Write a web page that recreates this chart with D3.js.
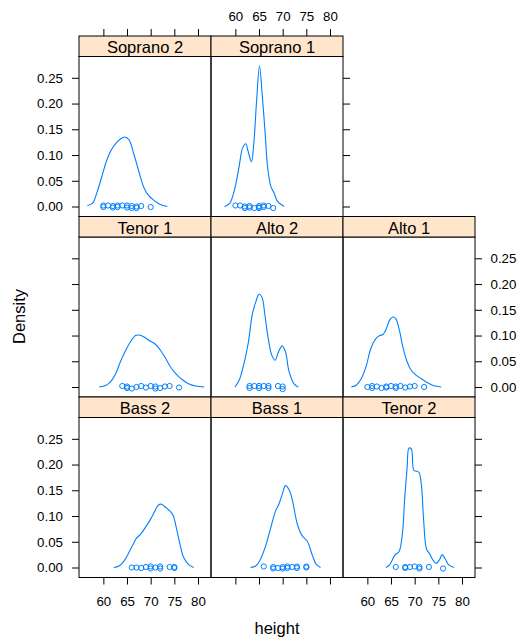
<!DOCTYPE html>
<html>
<head>
<meta charset="utf-8">
<script src="https://cdn.jsdelivr.net/npm/d3@7"></script>
<style>
  body { margin: 0; background: #fff; }
  text { font-family: "Liberation Sans", Arial, sans-serif; }
</style>
</head>
<body>
<div id="chart"></div>
<script>
// tick values
const heightTicks = [60, 65, 70, 75, 80];
const densityTicks = [0, 0.05, 0.10, 0.15, 0.20, 0.25];

// density curves: [height, density]
const soprano2Curve = [[56.6,0.002],[57.7,0.006],[58.7,0.029],[59.8,0.062],[60.5,0.084],[61.5,0.107],[62.6,0.122],[63.6,0.131],[64.5,0.135],[65.4,0.130],[66.5,0.100],[67.5,0.068],[68.6,0.036],[69.6,0.021],[70.7,0.012],[71.8,0.005],[73.5,0.000]];
const soprano1Curve = [[57.7,0.000],[58.8,0.006],[59.8,0.032],[60.8,0.078],[61.5,0.113],[62.2,0.122],[62.7,0.107],[63.4,0.087],[63.9,0.123],[64.5,0.207],[65.1,0.273],[65.7,0.214],[66.3,0.142],[66.8,0.078],[67.5,0.039],[68.2,0.026],[68.9,0.010],[70.3,0.000]];
const tenor1Curve = [[59.1,0.000],[60.5,0.003],[61.5,0.010],[62.6,0.026],[63.6,0.049],[64.7,0.071],[65.8,0.089],[66.8,0.100],[67.5,0.101],[68.6,0.097],[69.6,0.091],[71.0,0.083],[72.1,0.071],[73.2,0.055],[74.2,0.039],[75.3,0.026],[76.7,0.014],[78.1,0.006],[79.5,0.002],[81.3,0.000]];
const alto2Curve = [[59.9,0.000],[60.8,0.013],[61.8,0.045],[62.7,0.084],[63.6,0.142],[64.3,0.165],[65.0,0.180],[65.6,0.175],[66.3,0.136],[67.0,0.091],[67.7,0.062],[68.4,0.052],[69.1,0.068],[69.9,0.080],[70.6,0.068],[71.3,0.032],[72.4,0.006],[73.3,0.000]];
const alto1Curve = [[56.6,0.000],[57.7,0.004],[58.7,0.016],[59.8,0.042],[60.5,0.068],[61.2,0.085],[61.9,0.095],[62.6,0.100],[63.3,0.102],[64.0,0.113],[64.7,0.130],[65.4,0.136],[66.0,0.133],[66.7,0.113],[67.5,0.078],[68.4,0.049],[69.3,0.032],[70.3,0.023],[71.4,0.016],[72.4,0.010],[73.9,0.003],[75.6,0.000]];
const bass2Curve = [[62.2,0.000],[63.3,0.003],[64.4,0.013],[65.4,0.029],[66.3,0.045],[67.0,0.057],[67.9,0.065],[68.9,0.078],[70.0,0.094],[70.9,0.110],[71.7,0.122],[72.3,0.123],[73.0,0.118],[73.9,0.111],[74.7,0.102],[75.4,0.078],[76.2,0.045],[77.0,0.019],[78.1,0.005],[79.1,0.000]];
const bass1Curve = [[63.2,0.000],[64.3,0.003],[65.3,0.016],[66.4,0.042],[67.5,0.078],[68.5,0.110],[69.2,0.123],[69.9,0.142],[70.6,0.159],[71.3,0.152],[72.0,0.133],[73.1,0.084],[74.1,0.062],[75.2,0.051],[76.3,0.023],[77.1,0.006],[78.0,0.000]];
const tenor2Curve = [[63.9,0.000],[64.7,0.005],[65.8,0.024],[66.7,0.031],[67.4,0.065],[67.9,0.136],[68.4,0.194],[68.8,0.232],[69.3,0.230],[69.8,0.189],[70.4,0.187],[70.9,0.185],[71.4,0.162],[71.9,0.091],[72.5,0.036],[73.2,0.026],[73.9,0.014],[74.6,0.008],[75.3,0.016],[75.8,0.025],[76.5,0.016],[77.2,0.005],[78.3,0.000]];

// observed heights with the small vertical jitter seen in the picture
const soprano2Heights = [60, 60, 61, 62, 62, 63, 63, 64, 65, 65, 66, 66, 67, 67, 68, 70];
const soprano2Jitter  = [0.002, -0.001, 0.002, 0.001, -0.002, 0.002, -0.001, 0.002, 0.002, -0.002, 0.001, -0.003, 0.000, -0.003, 0.001, -0.001];
const soprano1Heights = [60, 61, 62, 62, 63, 63, 64, 65, 65, 65, 66, 66, 67, 68];
const soprano1Jitter  = [0.002, 0.002, 0.000, -0.003, 0.001, -0.002, -0.003, 0.001, -0.002, -0.003, 0.002, -0.001, 0.001, -0.003];
const tenor1Heights = [64, 65, 65, 66, 67, 68, 69, 70, 71, 71, 72, 73, 74, 76];
const tenor1Jitter  = [0.002, 0.001, -0.002, -0.003, 0.000, 0.002, -0.001, 0.002, 0.001, -0.003, -0.002, 0.001, 0.002, -0.001];
const alto2Heights = [63, 64, 65, 66, 67, 63, 65, 67, 69, 70, 70];
const alto2Jitter  = [0.002, 0.002, 0.002, 0.002, 0.002, -0.002, -0.002, -0.002, 0.002, 0.001, -0.004];
const alto1Heights = [60, 61, 61, 62, 63, 64, 64, 65, 66, 66, 67, 68, 69, 70, 72];
const alto1Jitter  = [0.000, 0.002, -0.002, 0.001, -0.002, 0.001, -0.001, 0.002, 0.001, -0.002, 0.002, -0.001, 0.001, 0.002, 0.000];
const bass2Heights = [66, 67, 68, 69, 70, 70, 71, 72, 72, 74, 75, 75];
const bass2Jitter  = [0.000, 0.000, -0.001, 0.001, 0.002, -0.002, 0.000, 0.002, -0.002, 0.001, 0.001, -0.001];
const bass1Heights = [66, 68, 68, 69, 70, 70, 71, 71, 72, 73, 73, 75, 75];
const bass1Jitter  = [0.002, 0.001, -0.002, -0.001, 0.001, -0.002, 0.002, -0.001, 0.001, 0.002, -0.001, 0.002, 0.000];
const tenor2Heights = [66, 68, 68, 69, 70, 71, 71, 73, 76];
const tenor2Jitter  = [0.001, 0.001, -0.001, 0.001, 0.002, 0.001, -0.002, 0.001, -0.002];

// panel table: row 0 is the top row
const panels = [
  { name: "Soprano 2", row: 0, col: 0, curve: soprano2Curve, heights: soprano2Heights, jitter: soprano2Jitter },
  { name: "Soprano 1", row: 0, col: 1, curve: soprano1Curve, heights: soprano1Heights, jitter: soprano1Jitter },
  { name: "Tenor 1",   row: 1, col: 0, curve: tenor1Curve,   heights: tenor1Heights,   jitter: tenor1Jitter },
  { name: "Alto 2",    row: 1, col: 1, curve: alto2Curve,    heights: alto2Heights,    jitter: alto2Jitter },
  { name: "Alto 1",    row: 1, col: 2, curve: alto1Curve,    heights: alto1Heights,    jitter: alto1Jitter },
  { name: "Bass 2",    row: 2, col: 0, curve: bass2Curve,    heights: bass2Heights,    jitter: bass2Jitter },
  { name: "Bass 1",    row: 2, col: 1, curve: bass1Curve,    heights: bass1Heights,    jitter: bass1Jitter },
  { name: "Tenor 2",   row: 2, col: 2, curve: tenor2Curve,   heights: tenor2Heights,   jitter: tenor2Jitter }
];

const width = 521, height = 642;
const colLeft = [79, 211, 343];
const rowTop = [36, 216.5, 397];
const panelW = 132, stripH = 20.5, panelH = 160;
const tick = 7;
const lineCol = "#0080ff";
const stripCol = "#ffe5cc";

const x = d3.scaleLinear().domain([54.85, 82.75]).range([0, panelW]);
const y = d3.scaleLinear().domain([-0.0194, 0.2914]).range([panelH, 0]);

const svg = d3.select("#chart").append("svg")
  .attr("width", width)
  .attr("height", height);

const line = d3.line()
  .x(d => x(d[0]))
  .y(d => y(d[1]))
  .curve(d3.curveCatmullRom.alpha(0.5));

function styleAxis(g) {
  g.select(".domain").remove();
  g.selectAll("line").attr("stroke", "#000");
  g.selectAll("text")
    .attr("font-family", "'Liberation Sans', Arial, sans-serif")
    .attr("font-size", 13.3)
    .attr("fill", "#000");
}

panels.forEach(p => {
  const left = colLeft[p.col];
  const top = rowTop[p.row];
  const g = svg.append("g").attr("transform", `translate(${left},${top + stripH})`);

  // strip
  svg.append("rect")
    .attr("x", left).attr("y", top)
    .attr("width", panelW).attr("height", stripH)
    .attr("fill", stripCol)
    .attr("stroke", "#000").attr("stroke-width", 1);
  svg.append("text")
    .attr("x", left + panelW / 2)
    .attr("y", top + stripH - 3.3)
    .attr("text-anchor", "middle")
    .attr("font-size", 16.5)
    .text(p.name);

  g.append("path")
    .datum(p.curve)
    .attr("fill", "none")
    .attr("stroke", lineCol)
    .attr("stroke-width", 1.1)
    .attr("d", line);

  g.selectAll("circle")
    .data(p.heights.map((h, i) => [h, p.jitter[i]]))
    .join("circle")
    .attr("cx", d => x(d[0]))
    .attr("cy", d => y(d[1]))
    .attr("r", 2.6)
    .attr("fill", "none")
    .attr("stroke", lineCol)
    .attr("stroke-width", 1);

  g.append("rect")
    .attr("width", panelW).attr("height", panelH)
    .attr("fill", "none")
    .attr("stroke", "#000").attr("stroke-width", 1);

  // left axis
  if (p.col === 0) {
    const ax = d3.axisLeft(y).tickValues(densityTicks).tickSize(tick).tickPadding(9)
      .tickFormat(p.row === 1 ? "" : d3.format(".2f"));
    g.append("g").call(ax).call(styleAxis);
  }
  // right axis on the last panel of each row
  const lastCol = p.row === 0 ? 1 : 2;
  if (p.col === lastCol) {
    const ax = d3.axisRight(y).tickValues(densityTicks).tickSize(tick).tickPadding(8.5)
      .tickFormat(p.row === 1 ? d3.format(".2f") : "");
    g.append("g").attr("transform", `translate(${panelW},0)`).call(ax).call(styleAxis);
  }
  // bottom axis
  if (p.row === 2) {
    const ax = d3.axisBottom(x).tickValues(heightTicks).tickSize(tick).tickPadding(12.5)
      .tickFormat(p.col === 1 ? "" : d3.format("d"));
    g.append("g").attr("transform", `translate(0,${panelH})`).call(ax).call(styleAxis);
  }
  // top axis above the strip
  if (p.row === 0) {
    const ax = d3.axisTop(x).tickValues(heightTicks).tickSize(tick).tickPadding(8)
      .tickFormat(p.col === 1 ? d3.format("d") : "");
    svg.append("g").attr("transform", `translate(${left},${top})`).call(ax).call(styleAxis);
  }
});

svg.append("text")
  .attr("x", (colLeft[0] + colLeft[2] + panelW) / 2)
  .attr("y", 633.5)
  .attr("text-anchor", "middle")
  .attr("font-size", 16.5)
  .text("height");

svg.append("text")
  .attr("transform", "translate(24.7,316.5) rotate(-90)")
  .attr("text-anchor", "middle")
  .attr("font-size", 16.5)
  .text("Density");
</script>
</body>
</html>
